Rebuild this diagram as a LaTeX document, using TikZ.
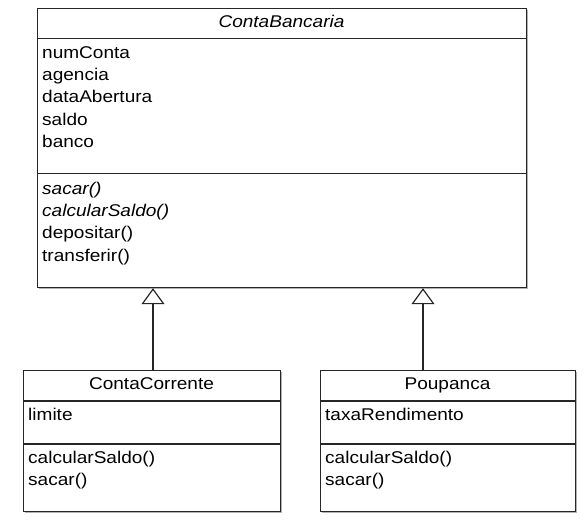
\documentclass[tikz,border=0pt]{standalone}
\usepackage{fontspec}
\setmainfont{Liberation Sans}[FakeStretch=1.12]
\usetikzlibrary{arrows.meta,shadows}

\begin{document}
\begin{tikzpicture}
[x=1pt,y=-1pt,
  classDecorate/.style={shape=rectangle,draw=black!85,fill=white,line width=1.2pt,
    inner sep=0pt,anchor=north west,
    drop shadow={shadow xshift=1.6pt,shadow yshift=-1.6pt,fill=black!30,opacity=1}},%
  lineDecorate/.style={-,draw=black!85,line width=1.2pt},%
  inheritDecorate/.style={-{Triangle[open,length=16pt,width=23pt,line width=1.2pt]},
    draw=black!85,line width=1.2pt},%
  memberDecorate/.style={anchor=base west,inner sep=0pt,font=\fontsize{17}{20}\selectfont},%
  titleDecorate/.style={anchor=base,inner sep=0pt,font=\fontsize{17}{20}\selectfont}]
\useasboundingbox (0,0) rectangle (584,522);
%% classes
\node (conta) at (37,8) [classDecorate,minimum width=489pt,minimum height=279pt] {};
\node (corrente) at (23,370) [classDecorate,minimum width=257pt,minimum height=141pt] {};
\node (poupanca) at (320,370) [classDecorate,minimum width=255pt,minimum height=141pt] {};
%% compartments
\draw[lineDecorate] ([yshift=-30.3pt]conta.north west) -- ([yshift=-30.3pt]conta.north east);
\draw[lineDecorate] ([yshift=-165.3pt]conta.north west) -- ([yshift=-165.3pt]conta.north east);
\foreach \cls in {corrente,poupanca}
{
  \draw[lineDecorate] ([yshift=-31pt]\cls.north west) -- ([yshift=-31pt]\cls.north east);
  \draw[lineDecorate] ([yshift=-74pt]\cls.north west) -- ([yshift=-74pt]\cls.north east);
}
%% names
\node (contaName) at (281.5,27.8) [titleDecorate] {\itshape ContaBancaria};
\node (correnteName) at (151.5,389) [titleDecorate] {ContaCorrente};
\node (poupancaName) at (447.5,389) [titleDecorate] {Poupanca};
%% members
\foreach \member [count=\i] in {numConta,agencia,dataAbertura,saldo,banco}
{
  \node (contaAttr\i) at (42,{58+22.4*(\i-1)}) [memberDecorate] {\member};
}
\foreach \member [count=\i] in {\itshape sacar(),\itshape calcularSaldo(),depositar(),transferir()}
{
  \node (contaOp\i) at (42,{194+22.4*(\i-1)}) [memberDecorate] {\member};
}
\node (correnteAttr) at (28,420) [memberDecorate] {limite};
\node (poupancaAttr) at (325,420) [memberDecorate] {taxaRendimento};
\foreach \cls/\x in {corrente/28,poupanca/325}
{
  \node (\cls Op1) at (\x,463.5) [memberDecorate] {calcularSaldo()};
  \node (\cls Op2) at (\x,485.5) [memberDecorate] {sacar()};
}
%% generalizations
\coordinate (correnteTop) at (153,370);
\coordinate (poupancaTop) at (423,370);
\draw[inheritDecorate] (correnteTop) -- (correnteTop |- conta.south);
\draw[inheritDecorate] (poupancaTop) -- (poupancaTop |- conta.south);
\end{tikzpicture}
\end{document}
